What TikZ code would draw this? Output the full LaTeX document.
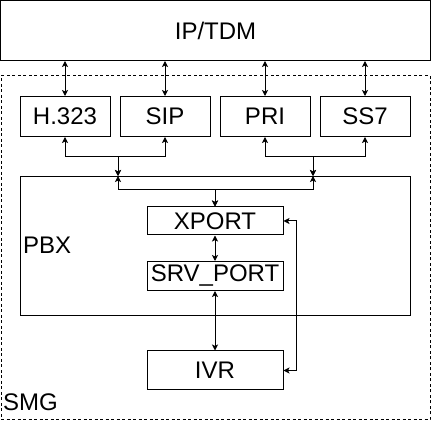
\documentclass[tikz,border=0pt]{standalone}
\usepackage{fontspec}
\setmainfont{Liberation Sans}
\usetikzlibrary{arrows.meta,positioning,calc}

\begin{document}
\begin{tikzpicture}[x=1pt, y=-1pt,
    box/.style={draw, line width=1pt, inner sep=0pt, font=\fontsize{24}{28}\selectfont},
    proto/.style={box, minimum width=90pt, minimum height=40pt},
    port/.style={box, minimum width=136pt, minimum height=29pt},
    arr/.style={{Stealth[length=6pt,width=6pt,inset=1.5pt]}-{Stealth[length=6pt,width=6pt,inset=1.5pt]}, line width=1pt},
    lbl/.style={font=\fontsize{24}{28}\selectfont, inner sep=0pt, anchor=west}
]
\useasboundingbox (0,0) rectangle (432,425);

% outer boxes
\node[box, minimum width=430pt, minimum height=60pt] (ip) at (215.5,30.5) {IP/TDM};
\node[draw, dash pattern=on 3pt off 2.5pt, line width=1pt, minimum width=429pt, minimum height=344pt] (smg) at (215.5,248) {};
\node[lbl] (smglbl) at (3,402) {SMG};

% protocol stacks
\node[proto] (h323) at (65,116.5) {H.323};
\node[proto] (sip) at (165,116.5) {SIP};
\node[proto] (pri) at (265,116.5) {PRI};
\node[proto] (ss7) at (365,116.5) {SS7};

% PBX and its ports
\node[box, minimum width=389.5pt, minimum height=139pt] (pbx) at (215.4,246) {};
\node[lbl] (pbxlbl) at (23,245) {PBX};
\node[port, minimum height=28pt] (xport) at (215,221) {XPORT};
\node[port] (srv) at (215,276) {SRV\_PORT};
\node[port, minimum height=39pt] (ivr) at (215,370.5) {IVR};

\coordinate (ja) at (118,157);
\coordinate (jb) at (313,157);
\coordinate (jc) at (216,190);
\coordinate (jd) at (296,300);

\foreach \p in {h323,sip,pri,ss7}
    \draw[arr] (\p.north |- ip.south) -- (\p.north);

\draw[arr] (h323.south) |- (ja) -- (ja |- pbx.north);
\draw[arr] (sip.south) |- (ja) -- (ja |- pbx.north);
\draw[arr] (pri.south) |- (jb) -- (jb |- pbx.north);
\draw[arr] (ss7.south) |- (jb) -- (jb |- pbx.north);

\draw[arr] (xport.north) |- (ja |- jc) -- (ja |- pbx.north);
\draw[arr] (xport.north) |- (jb |- jc) -- (jb |- pbx.north);
\draw[arr] (xport) -- (srv);
\draw[arr] (srv) -- (ivr);
\draw[arr] (xport.east) -- (xport.east -| jd) |- (ivr.east);
\end{tikzpicture}
\end{document}
